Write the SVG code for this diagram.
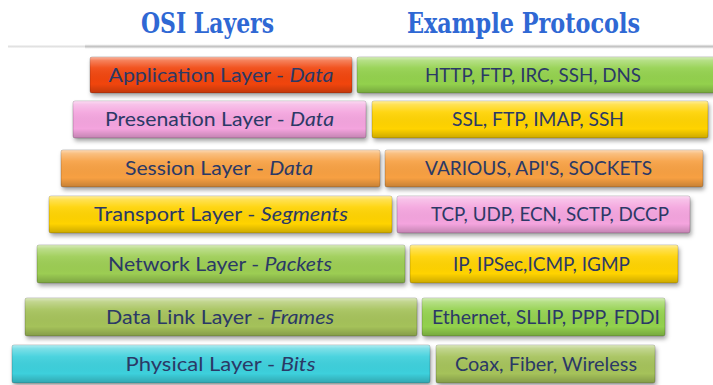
<svg xmlns="http://www.w3.org/2000/svg" width="713" height="385" viewBox="0 0 713 385">
<style>
  .title { font-family: "DejaVu Serif", "Liberation Serif", serif; font-weight: bold; font-size: 28px; fill: #2f68d4; }
  .lbl { font-family: Lato, "Open Sans", "Liberation Sans", sans-serif; font-size: 19.5px; fill: #2b3966; text-anchor: middle; }
  .it { font-style: italic; }
  .box { stroke: rgba(0,0,0,0.2); stroke-width: 1; filter: url(#shadow); }
  .gloss { fill: url(#gloss); }
  .red { fill: #f1440f; }
  .pink { fill: #f4a4de; }
  .yellow { fill: #ffd300; }
  .orange { fill: #f7a043; }
  .green { fill: #93d14d; }
  .lgreen { fill: #9ccd52; }
  .olive { fill: #a5c25a; }
  .cyan { fill: #3ed0dc; }
</style>
<defs>
  <linearGradient id="gloss" x1="0" y1="0" x2="0" y2="1">
    <stop offset="0" stop-color="#fff" stop-opacity="0.6"/>
    <stop offset="0.1" stop-color="#fff" stop-opacity="0.32"/>
    <stop offset="0.3" stop-color="#fff" stop-opacity="0.08"/>
    <stop offset="0.75" stop-color="#000" stop-opacity="0"/>
    <stop offset="1" stop-color="#000" stop-opacity="0.2"/>
  </linearGradient>
  <linearGradient id="rule" x1="0" y1="0" x2="0" y2="1">
    <stop offset="0" stop-color="#f0f0f0"/>
    <stop offset="0.5" stop-color="#c4c4c4"/>
    <stop offset="1" stop-color="#eeeeee"/>
  </linearGradient>
  <filter id="shadow" x="-5%" y="-20%" width="115%" height="160%">
    <feDropShadow dx="1.5" dy="3" stdDeviation="2" flood-color="#000" flood-opacity="0.35"/>
  </filter>
</defs>

<rect x="0" y="0" width="713" height="385" fill="#ffffff"/>

<g id="titles">
  <text class="title" x="141" y="33" textLength="133" lengthAdjust="spacingAndGlyphs">OSI Layers</text>
  <text class="title" x="407" y="33" textLength="233" lengthAdjust="spacingAndGlyphs">Example Protocols</text>
  <rect x="8" y="45" width="80" height="3" fill="url(#rule)" opacity="0.5"/>
  <rect x="85" y="44.5" width="628" height="4" fill="url(#rule)"/>
</g>

<g id="connectors"></g>

<g id="application-layer">
  <rect class="box red" x="90" y="57" width="262" height="36" rx="2"/>
  <rect class="gloss" x="90" y="57" width="262" height="36" rx="2"/>
  <text class="lbl" x="221" y="81.5" textLength="225" lengthAdjust="spacingAndGlyphs">Application Layer - <tspan class="it">Data</tspan></text>
</g>
<g id="application-protocols">
  <rect class="box green" x="357" y="57" width="358" height="36" rx="2"/>
  <rect class="gloss" x="357" y="57" width="358" height="36" rx="2"/>
  <text class="lbl" x="533" y="81.5" textLength="216" lengthAdjust="spacingAndGlyphs">HTTP, FTP, IRC, SSH, DNS</text>
</g>

<g id="presentation-layer">
  <rect class="box pink" x="73" y="101" width="293" height="37" rx="2"/>
  <rect class="gloss" x="73" y="101" width="293" height="37" rx="2"/>
  <text class="lbl" x="219.5" y="126" textLength="229" lengthAdjust="spacingAndGlyphs">Presenation Layer - <tspan class="it">Data</tspan></text>
</g>
<g id="presentation-protocols">
  <rect class="box yellow" x="372" y="101" width="336" height="37" rx="2"/>
  <rect class="gloss" x="372" y="101" width="336" height="37" rx="2"/>
  <text class="lbl" x="538" y="126" textLength="172" lengthAdjust="spacingAndGlyphs">SSL, FTP, IMAP, SSH</text>
</g>

<g id="session-layer">
  <rect class="box orange" x="61" y="150" width="319" height="37" rx="2"/>
  <rect class="gloss" x="61" y="150" width="319" height="37" rx="2"/>
  <text class="lbl" x="219" y="175" textLength="188" lengthAdjust="spacingAndGlyphs">Session Layer - <tspan class="it">Data</tspan></text>
</g>
<g id="session-protocols">
  <rect class="box orange" x="385" y="150" width="318" height="37" rx="2"/>
  <rect class="gloss" x="385" y="150" width="318" height="37" rx="2"/>
  <text class="lbl" x="538.5" y="175" textLength="227" lengthAdjust="spacingAndGlyphs">VARIOUS, API'S, SOCKETS</text>
</g>

<g id="transport-layer">
  <rect class="box yellow" x="49" y="196" width="343" height="37" rx="2"/>
  <rect class="gloss" x="49" y="196" width="343" height="37" rx="2"/>
  <text class="lbl" x="221" y="221" textLength="254" lengthAdjust="spacingAndGlyphs">Transport Layer - <tspan class="it">Segments</tspan></text>
</g>
<g id="transport-protocols">
  <rect class="box pink" x="397" y="196" width="293" height="37" rx="2"/>
  <rect class="gloss" x="397" y="196" width="293" height="37" rx="2"/>
  <text class="lbl" x="550" y="221" textLength="238" lengthAdjust="spacingAndGlyphs">TCP, UDP, ECN, SCTP, DCCP</text>
</g>

<g id="network-layer">
  <rect class="box lgreen" x="37" y="245" width="368" height="38" rx="2"/>
  <rect class="gloss" x="37" y="245" width="368" height="38" rx="2"/>
  <text class="lbl" x="220" y="270.5" textLength="224" lengthAdjust="spacingAndGlyphs">Network Layer - <tspan class="it">Packets</tspan></text>
</g>
<g id="network-protocols">
  <rect class="box yellow" x="410" y="245" width="268" height="38" rx="2"/>
  <rect class="gloss" x="410" y="245" width="268" height="38" rx="2"/>
  <text class="lbl" x="541.5" y="270.5" textLength="177" lengthAdjust="spacingAndGlyphs">IP, IPSec,ICMP, IGMP</text>
</g>

<g id="datalink-layer">
  <rect class="box olive" x="25" y="298" width="392" height="38" rx="2"/>
  <rect class="gloss" x="25" y="298" width="392" height="38" rx="2"/>
  <text class="lbl" x="220" y="323.5" textLength="228" lengthAdjust="spacingAndGlyphs">Data Link Layer - <tspan class="it">Frames</tspan></text>
</g>
<g id="datalink-protocols">
  <rect class="box green" x="422" y="298" width="243" height="38" rx="2"/>
  <rect class="gloss" x="422" y="298" width="243" height="38" rx="2"/>
  <text class="lbl" x="546" y="323.5" textLength="228" lengthAdjust="spacingAndGlyphs">Ethernet, SLLIP, PPP, FDDI</text>
</g>

<g id="physical-layer">
  <rect class="box cyan" x="12" y="345" width="418" height="38" rx="2"/>
  <rect class="gloss" x="12" y="345" width="418" height="38" rx="2"/>
  <text class="lbl" x="220.5" y="370.5" textLength="190" lengthAdjust="spacingAndGlyphs">Physical Layer - <tspan class="it">Bits</tspan></text>
</g>
<g id="physical-protocols">
  <rect class="box olive" x="436" y="345" width="219" height="38" rx="2"/>
  <rect class="gloss" x="436" y="345" width="219" height="38" rx="2"/>
  <text class="lbl" x="546" y="370.5" textLength="182" lengthAdjust="spacingAndGlyphs">Coax, Fiber, Wireless</text>
</g>
</svg>
